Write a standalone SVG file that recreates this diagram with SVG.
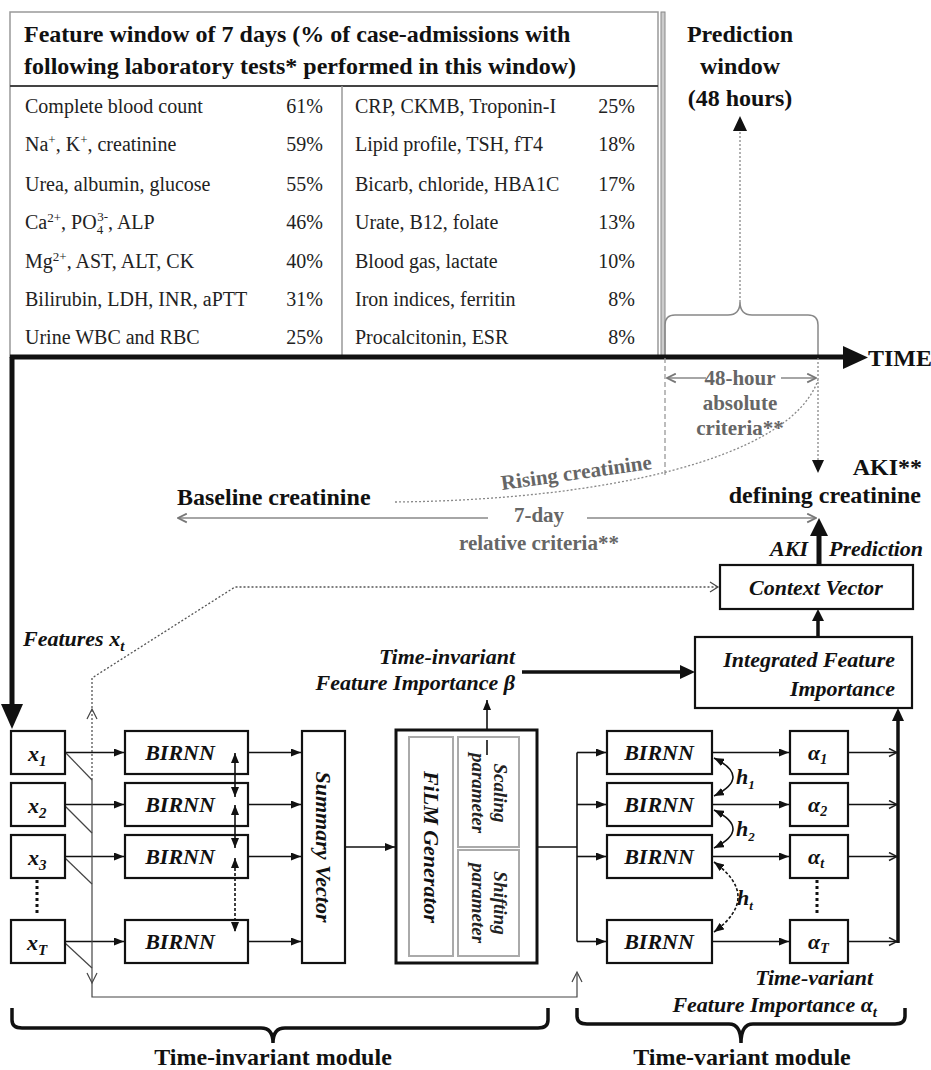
<svg xmlns="http://www.w3.org/2000/svg" width="931" height="1070" viewBox="0 0 931 1070" font-family="'Liberation Serif', 'DejaVu Serif', serif">
<style>
text{font-family:'Liberation Serif','DejaVu Serif',serif}
.hd{font-size:24px;font-weight:bold;fill:#111}
.row{font-size:20px;fill:#222}
.bi{font-size:22px;font-weight:bold;font-style:italic;fill:#111}
.bi2{font-size:19px;font-weight:bold;font-style:italic;fill:#222}
.gr{font-size:21px;font-weight:bold;fill:#666}
.box{fill:#fff;stroke:#111;stroke-width:2.2}
.gbox{fill:#fff;stroke:#aaa;stroke-width:2}
.ln{stroke:#111;stroke-width:1.6;fill:none}
.gl{stroke:#888;stroke-width:1.5;fill:none}
.dot{stroke:#555;stroke-width:1.3;stroke-dasharray:2 2;fill:none}
.gdot{stroke:#888;stroke-width:1.3;stroke-dasharray:2 2;fill:none}
.thin{stroke:#444;stroke-width:1.2;fill:none}
.mid{text-anchor:middle}
.end{text-anchor:end}
</style>
<defs>
<marker id="a" viewBox="0 0 10 8" refX="10" refY="4" markerWidth="10" markerHeight="8" markerUnits="userSpaceOnUse" orient="auto-start-reverse"><path d="M0,0 L10,4 L0,8 z" fill="#111"/></marker>
<marker id="c" viewBox="0 0 10 10" refX="9" refY="5" markerWidth="10" markerHeight="10" markerUnits="userSpaceOnUse" orient="auto-start-reverse"><path d="M1,1 L9,5 L1,9" fill="none" stroke="#222" stroke-width="1.5"/></marker>
<marker id="cg" viewBox="0 0 10 10" refX="9" refY="5" markerWidth="11" markerHeight="11" markerUnits="userSpaceOnUse" orient="auto-start-reverse"><path d="M1,1 L9,5 L1,9" fill="none" stroke="#777" stroke-width="1.6"/></marker>
</defs>

<g id="table">
<rect x="10" y="12" width="648" height="345" fill="#fff" stroke="#999" stroke-width="1.5"/>
<line x1="10" y1="86" x2="658" y2="86" stroke="#444" stroke-width="2"/>
<line x1="342" y1="86" x2="342" y2="357" stroke="#999" stroke-width="1.5"/>
<rect x="661" y="12" width="4" height="345" fill="#ccc" stroke="#888" stroke-width="1"/>
<text class="hd" x="24" y="42">Feature window of 7 days (% of case-admissions with</text>
<text class="hd" x="24" y="74">following laboratory tests* performed in this window)</text>
<text class="row" x="25" y="113">Complete blood count</text>
<text class="row" x="25" y="151">Na<tspan font-size="13" dy="-7">+</tspan><tspan dy="7">, K</tspan><tspan font-size="13" dy="-7">+</tspan><tspan dy="7">, creatinine</tspan></text>
<text class="row" x="25" y="191">Urea, albumin, glucose</text>
<text class="row" x="25" y="229">Ca<tspan font-size="13" dy="-7">2+</tspan><tspan dy="7">, PO</tspan><tspan font-size="13" dy="5">4</tspan><tspan font-size="13" dx="-6" dy="-13">3-</tspan><tspan dy="8">, ALP</tspan></text>
<text class="row" x="25" y="268">Mg<tspan font-size="13" dy="-7">2+</tspan><tspan dy="7">, AST, ALT, CK</tspan></text>
<text class="row" x="25" y="306">Bilirubin, LDH, INR, aPTT</text>
<text class="row" x="25" y="344">Urine WBC and RBC</text>
<text class="row end" x="323" y="113">61%</text>
<text class="row end" x="323" y="151">59%</text>
<text class="row end" x="323" y="191">55%</text>
<text class="row end" x="323" y="229">46%</text>
<text class="row end" x="323" y="268">40%</text>
<text class="row end" x="323" y="306">31%</text>
<text class="row end" x="323" y="344">25%</text>
<text class="row" x="355" y="113">CRP, CKMB, Troponin-I</text>
<text class="row" x="355" y="151">Lipid profile, TSH, fT4</text>
<text class="row" x="355" y="191">Bicarb, chloride, HBA1C</text>
<text class="row" x="355" y="229">Urate, B12, folate</text>
<text class="row" x="355" y="268">Blood gas, lactate</text>
<text class="row" x="355" y="306">Iron indices, ferritin</text>
<text class="row" x="355" y="344">Procalcitonin, ESR</text>
<text class="row end" x="635" y="113">25%</text>
<text class="row end" x="635" y="151">18%</text>
<text class="row end" x="635" y="191">17%</text>
<text class="row end" x="635" y="229">13%</text>
<text class="row end" x="635" y="268">10%</text>
<text class="row end" x="635" y="306">8%</text>
<text class="row end" x="635" y="344">8%</text>
</g>

<g id="prediction-window">
<text class="hd mid" x="740" y="42">Prediction</text>
<text class="hd mid" x="740" y="74">window</text>
<text class="hd mid" x="740" y="106">(48 hours)</text>
<path class="gl" d="M665,357 L665,325 Q665,315 675,315 L728,315 Q740,315 740,302 Q740,315 752,315 L808,315 Q818,315 818,325 L818,357"/>
</g>

<g id="timeline">
<line x1="12" y1="357" x2="12" y2="706" stroke="#111" stroke-width="5"/>
<polygon points="1,704 23,704 12,729" fill="#111"/>
<line x1="10" y1="357" x2="846" y2="357" stroke="#111" stroke-width="5"/>
<polygon points="843,346 843,369 868,357.5" fill="#111"/>
<text class="hd" x="868" y="366" font-size="23">TIME</text>
</g>

<g id="criteria">
<text class="hd" x="177" y="505">Baseline creatinine</text>
<text class="gr mid" x="740" y="385">48-hour</text>
<text class="gr mid" x="740" y="410">absolute</text>
<text class="gr mid" x="740" y="435">criteria**</text>
<text class="gr" x="502" y="490" transform="rotate(-8 502 490)">Rising creatinine</text>
<text class="gr mid" x="539" y="522">7-day</text>
<text class="gr mid" x="539" y="550">relative criteria**</text>
<text class="hd end" x="922" y="475">AKI**</text>
<text class="hd end" x="921" y="503">defining creatinine</text>
</g>

<g id="connectors">
<line class="gdot" x1="740" y1="302" x2="740" y2="130"/>
<polygon points="733,131 747,131 740,116" fill="#111"/>
<line x1="665" y1="358" x2="665" y2="477" stroke="#999" stroke-width="1.3" stroke-dasharray="5 3"/>
<line class="gdot" x1="818" y1="358" x2="818" y2="461"/>
<polygon points="812,460 824,460 818,473" fill="#111"/>
<line class="gl" x1="706" y1="378" x2="667" y2="378" marker-end="url(#cg)"/>
<line class="gl" x1="781" y1="378" x2="816" y2="378" marker-end="url(#cg)"/>
<path class="gdot" d="M395,502 C600,500 790,460 818,380"/>
<line class="gl" x1="488" y1="518" x2="178" y2="518" marker-end="url(#cg)"/>
<line class="gl" x1="587" y1="518" x2="816" y2="518" marker-end="url(#cg)"/>
<line x1="819" y1="565" x2="819" y2="534" stroke="#111" stroke-width="5"/>
<polygon points="810,536 828,536 819,518" fill="#111"/>
<line x1="818" y1="637" x2="818" y2="620" stroke="#111" stroke-width="3.5"/>
<polygon points="812,621 824,621 818,609" fill="#111"/>
<polyline class="dot" points="92,780 92,678 235,587 717,587"/>
<path class="thin" d="M710,582 L718,587 L710,592"/>
<path class="thin" d="M87,719 L92,709 L97,719"/>
<line x1="522" y1="672" x2="682" y2="672" stroke="#111" stroke-width="3.5"/>
<polygon points="680,665 680,679 695,672" fill="#111"/>
<line class="ln" x1="487" y1="755" x2="487" y2="700" marker-end="url(#a)" stroke-width="2"/>
<line class="ln" x1="65" y1="752.5" x2="124" y2="752.5" marker-end="url(#a)"/>
<line class="ln" x1="65" y1="804.5" x2="124" y2="804.5" marker-end="url(#a)"/>
<line class="ln" x1="65" y1="856.5" x2="124" y2="856.5" marker-end="url(#a)"/>
<line class="ln" x1="65" y1="941.5" x2="124" y2="941.5" marker-end="url(#a)"/>
<line class="thin" x1="65" y1="752" x2="92" y2="780"/>
<line class="thin" x1="65" y1="806" x2="92" y2="833"/>
<line class="thin" x1="65" y1="858" x2="92" y2="884"/>
<line class="thin" x1="65" y1="943" x2="92" y2="968"/>
<line class="thin" x1="92" y1="780" x2="92" y2="982"/>
<path class="thin" d="M87,973 L92,983 L97,973"/>
<polyline class="thin" points="92,982 92,997 577,997 577,974"/>
<path class="thin" d="M572,982 L577,972 L582,982"/>
<line class="ln" x1="248" y1="752.5" x2="301" y2="752.5" marker-end="url(#a)"/>
<line class="ln" x1="248" y1="804.5" x2="301" y2="804.5" marker-end="url(#a)"/>
<line class="ln" x1="248" y1="856.5" x2="301" y2="856.5" marker-end="url(#a)"/>
<line class="ln" x1="248" y1="941.5" x2="301" y2="941.5" marker-end="url(#a)"/>
<line class="ln" x1="345" y1="847" x2="395" y2="847" marker-end="url(#a)"/>
<line stroke="#111" stroke-width="3" stroke-dasharray="3 3" x1="37" y1="880" x2="37" y2="916"/>
<line class="ln" x1="537" y1="847" x2="577" y2="847"/>
<line class="ln" x1="577" y1="752.5" x2="577" y2="941.5"/>
<line class="ln" x1="577" y1="752.5" x2="606" y2="752.5" marker-end="url(#a)"/>
<line class="ln" x1="577" y1="804.5" x2="606" y2="804.5" marker-end="url(#a)"/>
<line class="ln" x1="577" y1="856.5" x2="606" y2="856.5" marker-end="url(#a)"/>
<line class="ln" x1="577" y1="941.5" x2="606" y2="941.5" marker-end="url(#a)"/>
<line class="ln" x1="712" y1="752.5" x2="789" y2="752.5" marker-end="url(#a)"/>
<line class="ln" x1="712" y1="804.5" x2="789" y2="804.5" marker-end="url(#a)"/>
<line class="ln" x1="712" y1="856.5" x2="789" y2="856.5" marker-end="url(#a)"/>
<line class="ln" x1="712" y1="941.5" x2="789" y2="941.5" marker-end="url(#a)"/>
<path class="ln" d="M714,758 Q752,777 714,796" marker-start="url(#a)" marker-end="url(#a)"/>
<path class="ln" d="M714,810 Q752,829 714,848" marker-start="url(#a)" marker-end="url(#a)"/>
<path class="ln" d="M714,862 Q762,897 714,932" stroke-dasharray="3 2" stroke-width="2" marker-start="url(#a)" marker-end="url(#a)"/>
<line class="ln" x1="848" y1="752.5" x2="897" y2="752.5" marker-end="url(#c)"/>
<line class="ln" x1="848" y1="804.5" x2="897" y2="804.5" marker-end="url(#c)"/>
<line class="ln" x1="848" y1="856.5" x2="897" y2="856.5" marker-end="url(#c)"/>
<line class="ln" x1="848" y1="941.5" x2="897" y2="941.5" marker-end="url(#c)"/>
<line x1="898" y1="943" x2="898" y2="720" stroke="#111" stroke-width="3.5"/>
<polygon points="892,721 904,721 898,708" fill="#111"/>
<line stroke="#111" stroke-width="3" stroke-dasharray="3 3" x1="817" y1="880" x2="817" y2="916"/>
</g>

<g id="labels">
<text class="bi" x="23" y="646">Features x<tspan font-size="15" dy="5">t</tspan></text>
<text class="bi end" x="515" y="664">Time-invariant</text>
<text class="bi end" x="515" y="690">Feature Importance β</text>
<text class="bi end" x="808" y="556" font-size="23">AKI</text>
<text class="bi" x="829" y="556" font-size="23">Prediction</text>
<text class="bi" x="736" y="784" font-size="20">h<tspan font-size="13" dy="5">1</tspan></text>
<text class="bi" x="736" y="836" font-size="20">h<tspan font-size="13" dy="5">2</tspan></text>
<text class="bi" x="737" y="905" font-size="20">h<tspan font-size="13" dy="5">t</tspan></text>
<text class="bi end" x="873" y="985">Time-variant</text>
<text class="bi end" x="877" y="1012">Feature Importance α<tspan font-size="15" dy="5">t</tspan></text>
</g>

<g id="context-vector">
<rect class="box" x="720" y="565" width="193" height="44"/>
<text class="bi mid" x="816" y="595">Context Vector</text>
</g>
<g id="integrated-feature-importance">
<rect class="box" x="695" y="637" width="217" height="71"/>
<text class="bi end" x="895" y="667">Integrated Feature</text>
<text class="bi end" x="895" y="696">Importance</text>
</g>

<g id="x1"><rect class="box" x="11" y="731" width="54" height="43"/><text class="bi" x="28" y="761" font-size="24">x<tspan font-size="15" dy="5">1</tspan></text></g>
<g id="x2"><rect class="box" x="11" y="783" width="54" height="43"/><text class="bi" x="28" y="813" font-size="24">x<tspan font-size="15" dy="5">2</tspan></text></g>
<g id="x3"><rect class="box" x="11" y="835" width="54" height="43"/><text class="bi" x="28" y="865" font-size="24">x<tspan font-size="15" dy="5">3</tspan></text></g>
<g id="xT"><rect class="box" x="11" y="920" width="54" height="43"/><text class="bi" x="27" y="950" font-size="24">x<tspan font-size="15" dy="5">T</tspan></text></g>

<g id="birnn-l1"><rect class="box" x="125" y="731" width="123" height="43"/><text class="bi mid" x="180" y="760">BIRNN</text></g>
<g id="birnn-l2"><rect class="box" x="125" y="783" width="123" height="43"/><text class="bi mid" x="180" y="812">BIRNN</text></g>
<g id="birnn-l3"><rect class="box" x="125" y="835" width="123" height="43"/><text class="bi mid" x="180" y="864">BIRNN</text></g>
<g id="birnn-lT"><rect class="box" x="125" y="920" width="123" height="43"/><text class="bi mid" x="180" y="949">BIRNN</text></g>

<g id="birnn-links">
<line class="ln" x1="235" y1="753" x2="235" y2="797" marker-start="url(#a)" marker-end="url(#a)"/>
<line class="ln" x1="235" y1="805" x2="235" y2="848" marker-start="url(#a)" marker-end="url(#a)"/>
<line class="ln" x1="235" y1="858" x2="235" y2="932" stroke-dasharray="3 2" marker-start="url(#a)" marker-end="url(#a)"/>
</g>

<g id="summary-vector">
<rect class="box" x="302" y="731" width="43" height="232"/>
<text class="bi mid" transform="translate(323,847) rotate(90)" y="7">Summary Vector</text>
</g>

<g id="film">
<rect fill="#fff" stroke="#111" stroke-width="3" x="396" y="730" width="141" height="233"/>
<rect class="gbox" x="409" y="737" width="44" height="219"/>
<rect class="gbox" x="458" y="737" width="61" height="110"/>
<rect class="gbox" x="458" y="850" width="61" height="106"/>
<text class="bi mid" transform="translate(431,847) rotate(90)" y="7">FiLM Generator</text>
<text class="bi2 mid" transform="translate(488,793) rotate(90)"><tspan x="0" y="-6">Scaling</tspan><tspan x="0" y="16">parameter</tspan></text>
<text class="bi2 mid" transform="translate(488,903) rotate(90)"><tspan x="0" y="-6">Shifting</tspan><tspan x="0" y="16">parameter</tspan></text>
<line class="ln" x1="487" y1="740" x2="487" y2="755" stroke-width="2"/>
</g>

<g id="birnn-r1"><rect class="box" x="607" y="731" width="105" height="43"/><text class="bi mid" x="659" y="760">BIRNN</text></g>
<g id="birnn-r2"><rect class="box" x="607" y="783" width="105" height="43"/><text class="bi mid" x="659" y="812">BIRNN</text></g>
<g id="birnn-r3"><rect class="box" x="607" y="835" width="105" height="43"/><text class="bi mid" x="659" y="864">BIRNN</text></g>
<g id="birnn-rT"><rect class="box" x="607" y="920" width="105" height="43"/><text class="bi mid" x="659" y="949">BIRNN</text></g>

<g id="alpha1"><rect class="box" x="790" y="731" width="58" height="43"/><text class="bi" x="808" y="760" font-size="23">α<tspan font-size="14" dy="4">1</tspan></text></g>
<g id="alpha2"><rect class="box" x="790" y="783" width="58" height="43"/><text class="bi" x="808" y="812" font-size="23">α<tspan font-size="14" dy="4">2</tspan></text></g>
<g id="alphat"><rect class="box" x="790" y="835" width="58" height="43"/><text class="bi" x="808" y="864" font-size="23">α<tspan font-size="14" dy="4">t</tspan></text></g>
<g id="alphaT"><rect class="box" x="790" y="920" width="58" height="43"/><text class="bi" x="808" y="949" font-size="23">α<tspan font-size="14" dy="4">T</tspan></text></g>

<g id="modules">
<path d="M12,1008 L12,1020 Q12,1028 22,1028 L261,1028 Q273,1028 273,1043 Q273,1028 285,1028 L538,1028 Q548,1028 548,1020 L548,1008" fill="none" stroke="#111" stroke-width="3.5"/>
<path d="M577,1008 L577,1016 Q577,1024 587,1024 L729,1024 Q741,1024 741,1043 Q741,1024 753,1024 L895,1024 Q905,1024 905,1016 L905,1008" fill="none" stroke="#111" stroke-width="3.5"/>
<text class="hd mid" x="273" y="1065">Time-invariant module</text>
<text class="hd mid" x="742" y="1065">Time-variant module</text>
</g>
</svg>
